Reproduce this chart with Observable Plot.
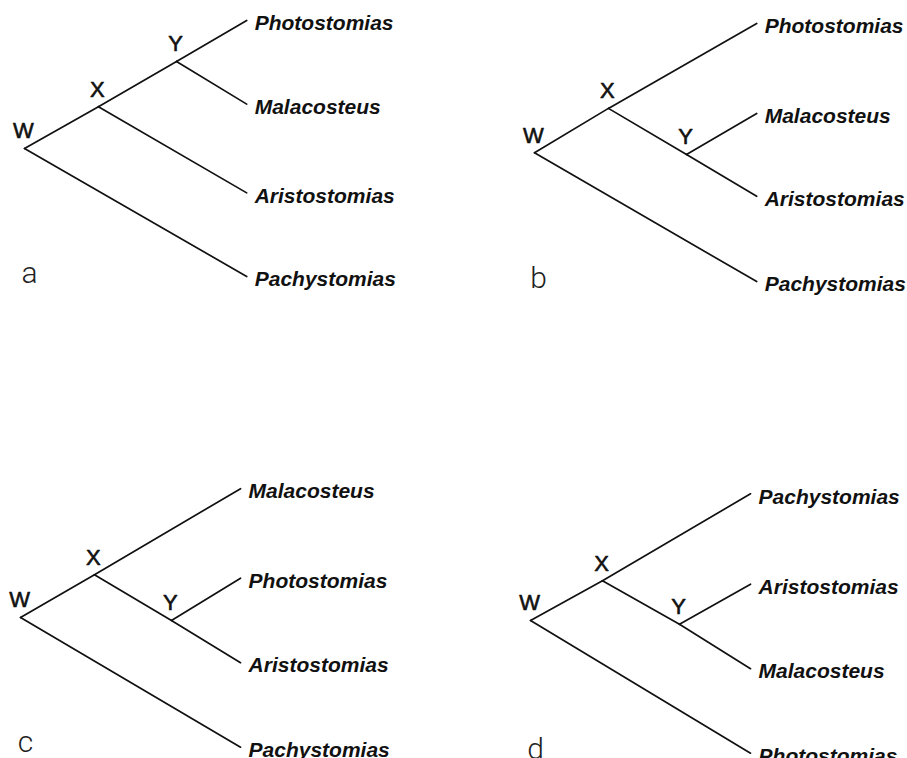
<!DOCTYPE html>
<html><head><meta charset="utf-8">
<script src="https://cdn.jsdelivr.net/npm/d3@7"></script>
<script src="https://cdn.jsdelivr.net/npm/@observablehq/plot@0.6"></script>
<style>body{margin:0;background:#fff}</style>
</head><body><div id="chart"></div>
<script>
// Four alternative cladograms (a–d) of four stomiid genera
const panelLetters = ["a", "b", "c", "d"];
const panelCol = [0, 1, 0, 1];
const panelRow = [0, 0, 1, 1];
const letterDepth = [0.23, 0.18, 0.05, 0.05];
const letterRank = [3.08, 3.13, 3.08, 3.16];

const tipNames = [
  ["Photostomias", "Malacosteus", "Aristostomias", "Pachystomias"],
  ["Photostomias", "Malacosteus", "Aristostomias", "Pachystomias"],
  ["Malacosteus", "Photostomias", "Aristostomias", "Pachystomias"],
  ["Pachystomias", "Aristostomias", "Malacosteus", "Photostomias"]
];
const tipDepth = [10.1, 10.1, 9.82, 9.82];
const tipRank = [
  [0, 0.98, 2.02, 3.0],
  [0.035, 1.09, 2.06, 3.06],
  [-0.01, 1.04, 2.03, 3.02],
  [0.05, 1.11, 2.10, 3.09]
];

const nodeNames = ["W", "X", "Y"];
const nodeDepth = [
  [0, 3.36, 6.91],
  [0, 3.36, 6.91],
  [-0.18, 3.18, 6.68],
  [-0.18, 3.09, 6.59]
];
const nodeRank = [
  [1.5, 1.01, 0.48],
  [1.55, 1.03, 1.57],
  [1.5, 1.0, 1.535],
  [1.535, 1.07, 1.58]
];

// parent → child; numbers are tip indices (top to bottom)
const edgeLists = [
  [["W", "X"], ["W", 3], ["X", "Y"], ["X", 2], ["Y", 0], ["Y", 1]],
  [["W", "X"], ["W", 3], ["X", 0], ["X", "Y"], ["Y", 1], ["Y", 2]],
  [["W", "X"], ["W", 3], ["X", 0], ["X", "Y"], ["Y", 1], ["Y", 2]],
  [["W", "X"], ["W", 3], ["X", 0], ["X", "Y"], ["Y", 1], ["Y", 2]]
];

// build tables
const nodes = [], tips = [], edges = [], letters = [];
panelLetters.forEach((p, i) => {
  const pos = {};
  nodeNames.forEach((n, j) => {
    pos[n] = [nodeDepth[i][j], nodeRank[i][j]];
    nodes.push({col: panelCol[i], row: panelRow[i], x: nodeDepth[i][j], y: nodeRank[i][j], label: n});
  });
  tipNames[i].forEach((t, k) => {
    pos[k] = [tipDepth[i], tipRank[i][k]];
    tips.push({col: panelCol[i], row: panelRow[i], x: tipDepth[i], y: tipRank[i][k], label: t});
  });
  edgeLists[i].forEach(([a, b]) => {
    edges.push({col: panelCol[i], row: panelRow[i], x1: pos[a][0], y1: pos[a][1], x2: pos[b][0], y2: pos[b][1]});
  });
  letters.push({col: panelCol[i], row: panelRow[i], x: letterDepth[i], y: letterRank[i], label: p});
});

const helv = "'Liberation Sans', Arial, Helvetica, sans-serif";

const chart = Plot.plot({
  width: 907,
  height: 758,
  marginTop: 0, marginRight: 0, marginBottom: 0, marginLeft: 0,
  x: {domain: [-1.0909, 16.9545], axis: null},
  y: {domain: [-0.2344, 3.1525], reverse: true, axis: null},
  fx: {domain: [0, 1], paddingInner: 0.2216, paddingOuter: 0, axis: null},
  fy: {domain: [0, 1], paddingInner: 0.3838, paddingOuter: 0, axis: null},
  marks: [
    Plot.link(edges, {x1: "x1", y1: "y1", x2: "x2", y2: "y2", fx: "col", fy: "row",
      stroke: "#111", strokeWidth: 1.7, strokeLinecap: "round"}),
    Plot.text(tips, {x: "x", y: "y", text: "label", fx: "col", fy: "row",
      textAnchor: "start", lineAnchor: "middle", dx: 8, dy: 3,
      fontFamily: helv, fontStyle: "italic", fontWeight: "bold", fontSize: 21, fill: "#111"}),
    Plot.text(nodes, {x: "x", y: "y", text: "label", fx: "col", fy: "row",
      textAnchor: "middle", lineAnchor: "bottom", dx: -1, dy: -10,
      fontFamily: helv, fontSize: 22, fill: "#111", stroke: "#111", strokeWidth: 0.6}),
    Plot.text(letters, {x: "x", y: "y", text: "label", fx: "col", fy: "row",
      textAnchor: "middle", lineAnchor: "bottom",
      fontFamily: "Roboto, 'Liberation Sans', sans-serif", fontWeight: 300, fontSize: 30, fill: "#222"})
  ]
});
document.getElementById("chart").appendChild(chart);
</script>
</body></html>
